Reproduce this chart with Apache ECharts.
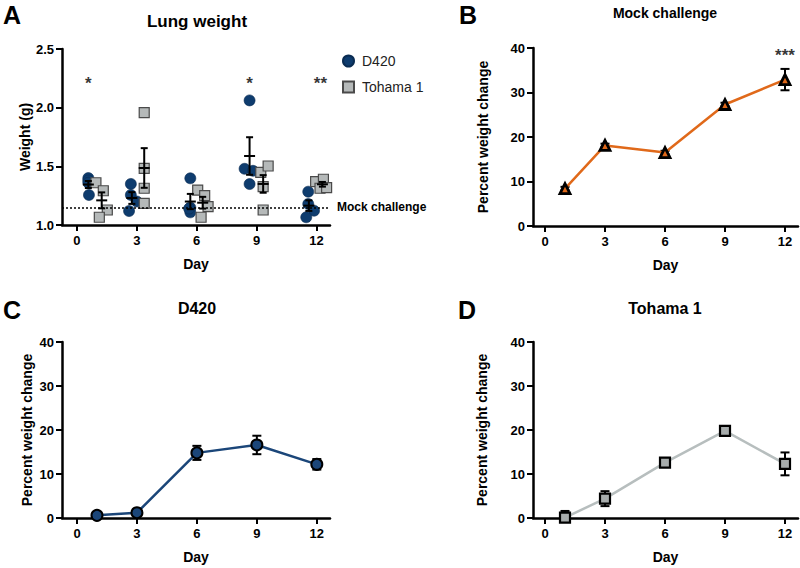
<!DOCTYPE html>
<html><head><meta charset="utf-8">
<script src="https://cdn.jsdelivr.net/npm/echarts@6/dist/echarts.min.js"></script>
<style>html,body{margin:0;padding:0;background:#fff}#c{width:800px;height:568px}</style>
</head><body><div id="c"></div>
<script>
// ---------- data ----------
const days = [1, 3, 6, 9, 12];
const xTicks = [0, 3, 6, 9, 12];

// Panel A: individual lung weights [day (jittered as plotted), weight g]
const lungD420 = [
  [0.57, 1.40], [0.57, 1.38], [0.57, 1.36], [0.60, 1.256],
  [2.70, 1.35], [2.70, 1.256], [3.00, 1.20], [2.61, 1.119],
  [5.68, 1.398], [5.68, 1.148], [5.68, 1.108], [5.62, 1.14],
  [8.65, 2.062], [8.40, 1.479], [8.82, 1.462], [8.65, 1.349],
  [11.59, 1.284], [11.59, 1.179], [11.88, 1.122], [11.49, 1.066]
];
const lungTohama = [
  [0.95, 1.36], [1.32, 1.292], [1.52, 1.128], [1.12, 1.066],
  [3.37, 1.958], [3.37, 1.483], [3.37, 1.313], [3.37, 1.185],
  [6.05, 1.298], [6.40, 1.25], [6.57, 1.156], [6.22, 1.066],
  [9.21, 1.449], [9.58, 1.503], [9.33, 1.327], [9.33, 1.128],
  [11.96, 1.369], [12.35, 1.39], [12.18, 1.313], [12.51, 1.318]
];
// Panel A group mean ± SEM [day position, mean, sem]
const lungD420Mean = [[0.57, 1.345, 0.03], [2.75, 1.23, 0.05], [5.68, 1.20, 0.065], [8.65, 1.588, 0.16], [11.62, 1.165, 0.045]];
const lungTohamaMean = [[1.24, 1.21, 0.068], [3.37, 1.486, 0.169], [6.30, 1.19, 0.05], [9.33, 1.35, 0.075], [12.30, 1.347, 0.02]];
const mockLungWeight = 1.15;
const lungStars = [[0.57, 2.21, '*'], [8.65, 2.21, '*'], [12.2, 2.21, '**']];

// Panels B-D: percent weight change mean and SEM
const mockMean = [8.4, 18.1, 16.5, 27.3, 32.9];
const mockSem = [0.4, 0.4, 0.4, 0.4, 2.4];
const d420Mean = [0.6, 1.2, 14.8, 16.6, 12.2];
const d420Sem = [0.5, 0.5, 1.6, 2.1, 1.2];
const tohamaMean = [0.1, 4.4, 12.6, 19.8, 12.3];
const tohamaSem = [1.5, 1.7, 0.4, 0.4, 2.6];
const mockStars = [[12, 38.4, '***']];

// ---------- helpers ----------
const FF = '"Liberation Sans", Arial, Helvetica, sans-serif';
const toXY = (m) => days.map((d, i) => [d, m[i]]);
const toErr = (m, s) => days.map((d, i) => [d, m[i], s[i]]);

function xAxisCfg(gi, min, max) {
  return {
    type: 'value', gridIndex: gi, min: min, max: max,
    axisLine: { show: true, onZero: false, lineStyle: { color: '#000', width: 2.5 } },
    axisTick: { show: true, customValues: xTicks, length: 6, lineStyle: { color: '#000', width: 2 } },
    axisLabel: { customValues: xTicks, margin: 9, color: '#000', fontSize: 13, fontWeight: 'bold', fontFamily: FF },
    splitLine: { show: false },
    name: 'Day', nameLocation: 'middle', nameGap: 32,
    nameTextStyle: { color: '#000', fontSize: 14, fontWeight: 'bold', fontFamily: FF }
  };
}
function yAxisCfg(gi, min, max, interval, name, nameGap, digits) {
  return {
    type: 'value', gridIndex: gi, min: min, max: max, interval: interval,
    axisLine: { show: true, onZero: false, lineStyle: { color: '#000', width: 2.5 } },
    axisTick: { show: true, length: 6, lineStyle: { color: '#000', width: 2 } },
    axisLabel: { margin: 8, color: '#000', fontSize: 13, fontWeight: 'bold', fontFamily: FF,
      formatter: (v) => v.toFixed(digits) },
    splitLine: { show: false },
    name: name, nameLocation: 'middle', nameGap: nameGap,
    nameTextStyle: { color: '#000', fontSize: 14, fontWeight: 'bold', fontFamily: FF }
  };
}
function errorBar(capW, meanW) {
  return function (params, api) {
    const x = api.value(0), m = api.value(1), s = api.value(2);
    const cs = params.coordSys;
    const yBottom = cs.y + cs.height;
    const c = api.coord([x, m]);
    const t = api.coord([x, m + s]);
    const b = api.coord([x, m - s]);
    const st = { stroke: '#000', lineWidth: 2, fill: null };
    let by = b[1], capB = true;
    if (by > yBottom) { by = yBottom; capB = false; }
    const ch = [
      { type: 'line', shape: { x1: c[0], y1: t[1], x2: c[0], y2: by }, style: st },
      { type: 'line', shape: { x1: c[0] - capW / 2, y1: t[1], x2: c[0] + capW / 2, y2: t[1] }, style: st }
    ];
    if (capB) ch.push({ type: 'line', shape: { x1: c[0] - capW / 2, y1: by, x2: c[0] + capW / 2, y2: by }, style: st });
    if (meanW) ch.push({ type: 'line', shape: { x1: c[0] - meanW / 2, y1: c[1], x2: c[0] + meanW / 2, y2: c[1] }, style: st });
    return { type: 'group', children: ch };
  };
}
function starSeries(xi, data) {
  return {
    type: 'scatter', xAxisIndex: xi, yAxisIndex: xi, data: data, symbolSize: 0, silent: true, z: 5,
    label: { show: true, position: 'inside', formatter: (p) => p.value[2], color: '#000', fontSize: 17,
      fontWeight: 'bold', fontFamily: FF }
  };
}
function txt(x, y, text, size) {
  return { type: 'text', x: x, y: y, silent: true,
    style: { text: text, x: 0, y: 0, align: 'center', verticalAlign: 'middle', fill: '#000',
      font: 'bold ' + size + 'px ' + FF } };
}

// ---------- chart ----------
const chart = echarts.init(document.getElementById('c'), null, { renderer: 'svg' });
chart.setOption({
  animation: false,
  backgroundColor: '#fff',
  graphic: [
    txt(12, 15, 'A', 25), txt(468, 15, 'B', 25), txt(12, 310, 'C', 25), txt(467, 310, 'D', 25),
    txt(197, 21, 'Lung weight', 17), txt(665, 13, 'Mock challenge', 14),
    txt(197, 308, 'D420', 16), txt(665, 308, 'Tohama 1', 16)
  ],
  legend: {
    left: 342, top: 54, orient: 'vertical', padding: 0, itemGap: 12, itemWidth: 11, itemHeight: 11,
    selectedMode: false,
    textStyle: { fontSize: 14, color: '#222', fontFamily: FF, padding: [0, 0, 0, 3] },
    data: [{ name: 'D420', icon: 'circle' }, { name: 'Tohama 1', icon: 'rect' }]
  },
  grid: [
    { left: 62, top: 49, width: 268, height: 176 },
    { left: 533, top: 48, width: 265, height: 178 },
    { left: 62, top: 342, width: 268, height: 176 },
    { left: 533, top: 342, width: 265, height: 176 }
  ],
  xAxis: [
    xAxisCfg(0, -0.75, 12.68),
    xAxisCfg(1, -0.6, 12.65),
    xAxisCfg(2, -0.75, 12.66),
    xAxisCfg(3, -0.6, 12.65)
  ],
  yAxis: [
    yAxisCfg(0, 1, 2.5, 0.5, 'Weight (g)', 26, 1),
    yAxisCfg(1, 0, 40, 10, 'Percent weight change', 43, 0),
    yAxisCfg(2, 0, 40, 10, 'Percent weight change', 28, 0),
    yAxisCfg(3, 0, 40, 10, 'Percent weight change', 44, 0)
  ],
  series: [
    // Panel A
    { type: 'custom', xAxisIndex: 0, yAxisIndex: 0, data: lungD420Mean, renderItem: errorBar(7, 11), z: 4, silent: true },
    { type: 'custom', xAxisIndex: 0, yAxisIndex: 0, data: lungTohamaMean, renderItem: errorBar(7, 11), z: 4, silent: true },
    { type: 'scatter', name: 'D420', xAxisIndex: 0, yAxisIndex: 0, data: lungD420, symbol: 'circle', symbolSize: 11,
      itemStyle: { color: '#0E3C6E', borderColor: '#0A2C52', borderWidth: 0.6, opacity: 1 }, z: 3,
      markLine: { silent: true, symbol: ['none', 'none'], data: [{ yAxis: mockLungWeight }],
        lineStyle: { color: '#000', width: 1.6, type: [2, 2] },
        label: { show: true, position: 'end', distance: 7, formatter: 'Mock challenge', color: '#000',
          fontSize: 12, fontWeight: 'bold', fontFamily: FF } } },
    { type: 'scatter', name: 'Tohama 1', xAxisIndex: 0, yAxisIndex: 0, data: lungTohama, symbol: 'rect', symbolSize: 10,
      itemStyle: { color: '#B5B9B9', borderColor: '#4A4A4A', borderWidth: 1.2, opacity: 1 }, z: 3 },
    starSeries(0, lungStars),
    // Panel B
    { type: 'custom', xAxisIndex: 1, yAxisIndex: 1, data: toErr(mockMean, mockSem), renderItem: errorBar(9, 0), z: 2, silent: true },
    { type: 'line', name: 'Mock', xAxisIndex: 1, yAxisIndex: 1, data: toXY(mockMean), symbol: 'triangle', symbolSize: 10,
      lineStyle: { color: '#E0691A', width: 2.5 }, itemStyle: { color: '#E0691A', borderColor: '#000', borderWidth: 2.8 }, z: 3 },
    starSeries(1, mockStars),
    // Panel C
    { type: 'custom', xAxisIndex: 2, yAxisIndex: 2, data: toErr(d420Mean, d420Sem), renderItem: errorBar(9, 0), z: 2, silent: true },
    { type: 'line', name: 'D420 change', xAxisIndex: 2, yAxisIndex: 2, data: toXY(d420Mean), symbol: 'circle', symbolSize: 11,
      lineStyle: { color: '#1B4679', width: 2.5 }, itemStyle: { color: '#1B4679', borderColor: '#000', borderWidth: 2 }, z: 3 },
    // Panel D
    { type: 'custom', xAxisIndex: 3, yAxisIndex: 3, data: toErr(tohamaMean, tohamaSem), renderItem: errorBar(9, 0), z: 2, silent: true },
    { type: 'line', name: 'Tohama change', xAxisIndex: 3, yAxisIndex: 3, data: toXY(tohamaMean), symbol: 'rect', symbolSize: 10,
      lineStyle: { color: '#B7BEBE', width: 2.5 }, itemStyle: { color: '#A7ACAC', borderColor: '#000', borderWidth: 2.2 }, z: 3 }
  ]
});
</script>
</body></html>
